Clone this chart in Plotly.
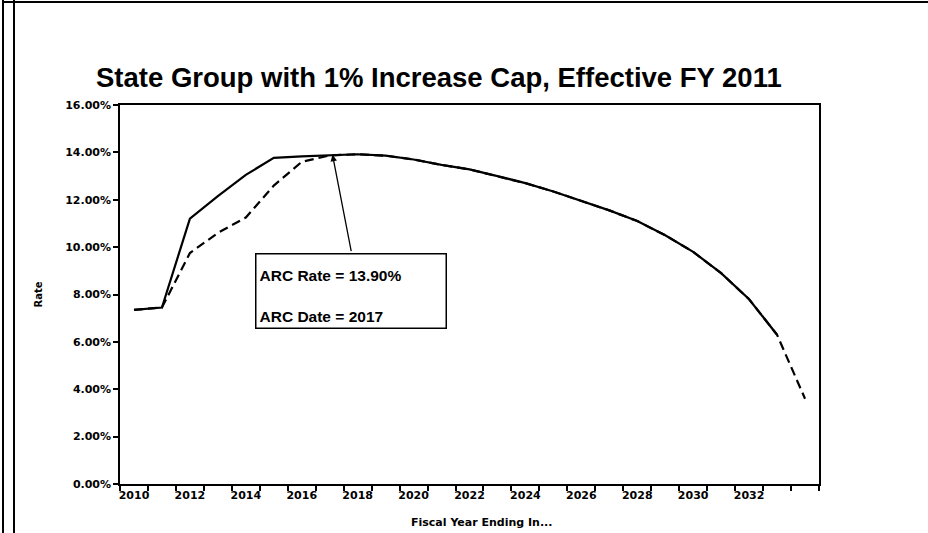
import plotly.graph_objects as go

# ---- data ----
years_solid = list(range(2010, 2034))
rate_solid = [7.35, 7.45, 11.2, 12.15, 13.05, 13.77, 13.83, 13.88, 13.92, 13.86,
              13.70, 13.47, 13.28, 13.00, 12.70, 12.35, 11.95, 11.55, 11.10, 10.50,
              9.80, 8.90, 7.80, 6.30]
years_dash = list(range(2010, 2035))
rate_dash = [7.35, 7.45, 9.75, 10.60, 11.25, 12.60, 13.60, 13.87, 13.92, 13.86,
             13.70, 13.47, 13.28, 13.00, 12.70, 12.35, 11.95, 11.55, 11.10, 10.50,
             9.80, 8.90, 7.80, 6.30, 3.60]
tick_years = list(range(2010, 2033, 2))
tick_labels = [str(y) for y in tick_years]
y_ticks = list(range(0, 17, 2))
arc_rate = 13.90
arc_year = 2017

W, H = 928, 533
L, R, T, B = 120, 109, 105, 49
PW, PH = W - L - R, H - T - B


def px_x(p):
    return (p - L) / PW


def px_y(p):
    return (H - B - p) / PH


fig = go.Figure()
fig.add_trace(go.Scatter(x=years_dash, y=rate_dash, mode="lines",
                         line=dict(color="black", width=2.2, dash="9px,5px"),
                         showlegend=False, hoverinfo="skip"))
fig.add_trace(go.Scatter(x=years_solid, y=rate_solid, mode="lines",
                         line=dict(color="black", width=2.2),
                         showlegend=False, hoverinfo="skip"))

axfont = dict(family="DejaVu Sans", size=11, color="black", weight="bold")

fig.update_layout(
    width=W, height=H,
    margin=dict(l=L, r=R, t=T, b=B, autoexpand=False),
    paper_bgcolor="white", plot_bgcolor="white",
    title=dict(text="State Group with 1% Increase Cap, Effective FY 2011",
               font=dict(family="Liberation Sans", size=27.5, color="black", weight="bold"),
               x=96 / W, xanchor="left", xref="container",
               y=1 - 77 / H, yanchor="middle", yref="container"),
    xaxis=dict(range=[2009.5, 2034.5], tickmode="array", tickvals=tick_years,
               ticktext=tick_labels, ticks="", showgrid=False, zeroline=False,
               showline=True, linecolor="black", linewidth=1.5, mirror=True,
               tickfont=axfont,
               minor=dict(tick0=2009.5, dtick=1, ticks="outside", ticklen=5,
                          tickcolor="black", tickwidth=1.5, showgrid=False)),
    yaxis=dict(range=[0, 16], tickmode="array", tickvals=y_ticks,
               ticktext=[f"{v:.2f}%" for v in y_ticks],
               ticks="outside", ticklen=5, tickcolor="black", tickwidth=1.5,
               showgrid=False, zeroline=False,
               showline=True, linecolor="black", linewidth=1.5, mirror=True,
               tickfont=axfont,
               title=dict(text="Rate", font=dict(family="DejaVu Sans", size=10,
                                                 color="black", weight="bold"),
                          standoff=21)),
)

# x-axis title
fig.add_annotation(xref="paper", yref="paper", x=px_x(481), y=px_y(522),
                   text="Fiscal Year Ending In...", showarrow=False,
                   xanchor="center", yanchor="middle", font=axfont)

# annotation box
box_cx, box_cy = (255 + 446) / 2, (254 + 328) / 2
fig.add_annotation(
    xref="paper", yref="paper",
    x=px_x(box_cx), y=px_y(box_cy),
    text=f"ARC Rate = {arc_rate:.2f}%<br><br>ARC Date = {arc_year}",
    showarrow=False, align="left", valign="bottom",
    xanchor="center", yanchor="middle",
    width=183, height=67, borderpad=3, bordercolor="black", borderwidth=1.5,
    bgcolor="white",
    font=dict(family="Liberation Sans", size=15.5, color="black", weight="bold"),
)
# arrow
fig.add_annotation(
    x=arc_year + 0.1, y=arc_rate, xref="x", yref="y", text="",
    showarrow=True, arrowhead=2, arrowsize=1, arrowwidth=1.3, arrowcolor="black",
    ax=19, ay=98, standoff=0,
)

# page frame lines (scan border)
for xp in (3, 14):
    fig.add_shape(type="line", xref="paper", yref="paper",
                  x0=px_x(xp), x1=px_x(xp), y0=px_y(0), y1=px_y(H),
                  line=dict(color="black", width=2))
fig.add_shape(type="line", xref="paper", yref="paper",
              x0=px_x(3), x1=px_x(W), y0=px_y(2), y1=px_y(2),
              line=dict(color="black", width=2))

fig.write_html("out.html")
